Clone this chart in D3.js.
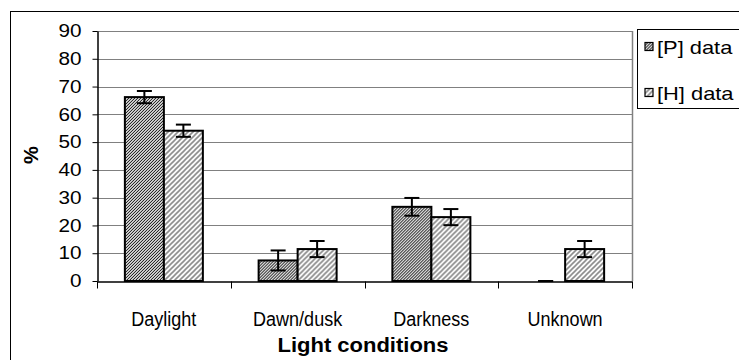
<!DOCTYPE html>
<html><head><meta charset="utf-8">
<script src="https://cdn.jsdelivr.net/npm/d3@7"></script>
<style>
html,body{margin:0;padding:0;background:#fff;}
svg{display:block;font-family:"Liberation Sans",Arial,sans-serif;}
</style></head>
<body>
<svg id="c" width="739" height="360"></svg>
<script>
const categories = ["Daylight", "Dawn/dusk", "Darkness", "Unknown"];
const seriesNames = ["[P] data", "[H] data"];
const pValues = [66.2, 7.4, 26.7, 0];
const pErrors = [2.2, 3.6, 3.2, 0];
const hValues = [54.1, 11.5, 23.0, 11.5];
const hErrors = [2.2, 2.9, 2.9, 2.9];
const yTicks = [0, 10, 20, 30, 40, 50, 60, 70, 80, 90];
const yLabel = "%";
const xLabel = "Light conditions";

const svg = d3.select("#c");
const defs = svg.append("defs");

// patterns
const pp = defs.append("pattern").attr("id","patP").attr("patternUnits","userSpaceOnUse")
  .attr("width",3).attr("height",3);
pp.append("rect").attr("width",3).attr("height",3).attr("fill","#d4d4d4");
pp.append("path").attr("d","M-1,1 l2,-2 M0,3 l3,-3 M2,4 l2,-2").attr("stroke","#111").attr("stroke-width",1);

const hp = defs.append("pattern").attr("id","patH").attr("patternUnits","userSpaceOnUse")
  .attr("width",5).attr("height",5);
hp.append("rect").attr("width",5).attr("height",5).attr("fill","#fff");
hp.append("path").attr("d","M-1,1 l2,-2 M0,5 l5,-5 M4,6 l2,-2").attr("stroke","#8a8a8a").attr("stroke-width",1.6);

function stretch(sel, k){
  sel.each(function(){
    const L = this.getComputedTextLength();
    d3.select(this).attr("textLength", L*k).attr("lengthAdjust","spacingAndGlyphs");
  });
}

// outer border
svg.append("rect").attr("x",10.5).attr("y",11.5).attr("width",800).attr("height",400)
  .attr("fill","none").attr("stroke","#000").attr("stroke-width",1);

const pL = 97, pR = 632, pT = 31, pB = 281;
const y = d3.scaleLinear().domain([0, 90]).range([pB, pT]);
const x0 = d3.scaleBand().domain(categories).range([pL, pR]).padding(0);
const groupW = 78;
const x1 = d3.scaleBand().domain(seriesNames).range([0, groupW]).padding(0);

// gridlines
svg.append("g").selectAll("line").data(yTicks.filter(d=>d>0)).join("line")
  .attr("x1",pL).attr("x2",pR)
  .attr("y1",d=>Math.round(y(d))+0.5).attr("y2",d=>Math.round(y(d))+0.5)
  .attr("stroke","#808080").attr("stroke-width",1);
// plot right border
svg.append("line").attr("x1",pR+0.5).attr("x2",pR+0.5).attr("y1",pT).attr("y2",pB)
  .attr("stroke","#808080").attr("stroke-width",1.5);

// bars
const data = categories.map((c,i)=>({c, vals:[
  {s:seriesNames[0], v:pValues[i], e:pErrors[i], pat:"url(#patP)"},
  {s:seriesNames[1], v:hValues[i], e:hErrors[i], pat:"url(#patH)"}]}));

const groups = svg.append("g").selectAll("g").data(data).join("g")
  .attr("transform", d=>`translate(${x0(d.c) + (x0.bandwidth()-groupW)/2},0)`);

groups.selectAll("rect").data(d=>d.vals.filter(v=>v.v>0)).join("rect")
  .attr("x", d=>x1(d.s)).attr("width", x1.bandwidth())
  .attr("y", d=>y(d.v)).attr("height", d=>y(0)-y(d.v))
  .attr("fill", d=>d.pat).attr("stroke","#000").attr("stroke-width",2);

// error bars
const eb = groups.selectAll("g.eb").data(d=>d.vals).join("g").attr("class","eb")
  .attr("transform", d=>`translate(${x1(d.s)+x1.bandwidth()/2},0)`);
eb.append("line").attr("x1",0).attr("x2",0)
  .attr("y1",d=>y(d.v+d.e)).attr("y2",d=>y(Math.max(0,d.v-d.e)))
  .attr("stroke","#000").attr("stroke-width",2);
eb.append("line").attr("x1",-7.5).attr("x2",7.5)
  .attr("y1",d=>y(d.v+d.e)).attr("y2",d=>y(d.v+d.e)).attr("stroke","#000").attr("stroke-width",2);
eb.append("line").attr("x1",-7.5).attr("x2",7.5)
  .attr("y1",d=>y(Math.max(0,d.v-d.e))).attr("y2",d=>y(Math.max(0,d.v-d.e))).attr("stroke","#000").attr("stroke-width",2);

// y axis
const yAxis = svg.append("g").attr("transform",`translate(${pL+0.5},0)`)
  .call(d3.axisLeft(y).tickValues(yTicks).tickSize(5).tickPadding(11).tickSizeOuter(0));
yAxis.select(".domain").attr("stroke","#000").attr("stroke-width",1.5);
yAxis.selectAll(".tick line").attr("stroke","#000");
yAxis.selectAll(".tick text").attr("font-size",18).attr("fill","#000")
  .attr("font-family","'Liberation Sans',Arial,sans-serif").call(stretch,1.15);

// x axis
const xAxis = svg.append("g").attr("transform",`translate(0,${pB+0.5})`)
  .call(d3.axisBottom(x0).tickSize(0).tickFormat(""));
xAxis.select(".domain").attr("stroke","#000").attr("stroke-width",1.5);
const bounds = categories.map(c=>x0(c)).concat([x0.range()[1]]);
xAxis.selectAll("line.sep").data(bounds).join("line").attr("class","sep")
  .attr("x1",d=>Math.round(d)+0.5).attr("x2",d=>Math.round(d)+0.5).attr("y1",0).attr("y2",7)
  .attr("stroke","#000").attr("stroke-width",1);

// category labels
svg.append("g").selectAll("text").data(categories).join("text")
  .attr("x", d=>x0(d)+x0.bandwidth()/2).attr("y",326)
  .attr("text-anchor","middle").attr("font-size",20).attr("fill","#000")
  .text(d=>d).call(stretch,0.9);

// axis titles
svg.append("text").attr("x",363).attr("y",352).attr("text-anchor","middle")
  .attr("font-size",20).attr("font-weight","bold").text(xLabel).call(stretch,1.1);
svg.append("text").attr("transform","translate(38,155) rotate(-90)")
  .attr("text-anchor","middle").attr("font-size",20).attr("font-weight","bold").text(yLabel);

// legend
svg.append("rect").attr("x",637.5).attr("y",29.5).attr("width",150).attr("height",79)
  .attr("fill","#fff").attr("stroke","#000").attr("stroke-width",1);
const lg = svg.append("g").selectAll("g").data(seriesNames).join("g")
  .attr("transform",(d,i)=>`translate(645,${i===0?42.5:88.5})`);
lg.append("rect").attr("width",8).attr("height",8)
  .attr("fill",(d,i)=>i===0?"url(#patP)":"url(#patH)").attr("stroke","#000").attr("stroke-width",1.2);
lg.append("text").attr("x",12).attr("y",11).attr("font-size",19).attr("fill","#000")
  .text(d=>d).call(stretch,1.15);
</script>
</body></html>
